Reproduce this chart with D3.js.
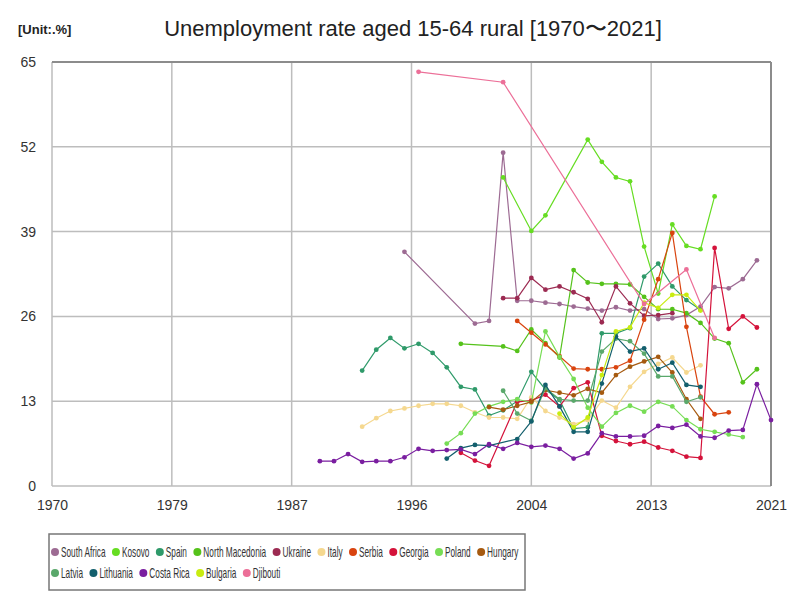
<!DOCTYPE html>
<html>
<head>
<meta charset="utf-8">
<script src="https://cdn.jsdelivr.net/npm/d3@7"></script>
<style>
  body { margin: 0; background: #fff; }
  svg { font-family: "Liberation Sans", Arial, sans-serif; }
</style>
</head>
<body>
<div id="chart"></div>
<script>
// values (percent)
const southAfricaYears = [1995, 2000, 2001, 2002, 2003, 2004, 2005, 2006, 2007, 2008, 2009, 2010, 2011, 2012, 2013, 2014, 2015, 2016, 2017, 2018, 2019, 2020];
const southAfricaValues = [35.9, 24.9, 25.3, 51.1, 28.4, 28.4, 28.1, 27.9, 27.5, 27.2, 26.9, 27.4, 26.9, 27.1, 25.6, 25.7, 26.2, 27.5, 30.5, 30.3, 31.7, 34.6];

const kosovoYears = [2002, 2004, 2005, 2008, 2009, 2010, 2011, 2012, 2013, 2014, 2015, 2016, 2017];
const kosovoValues = [47.3, 39.1, 41.5, 53.1, 49.7, 47.3, 46.7, 36.7, 29.5, 40.1, 36.8, 36.3, 44.4];

const spainYears = [1992, 1993, 1994, 1995, 1996, 1997, 1998, 1999, 2000, 2001, 2002, 2003, 2004, 2005, 2006, 2007, 2008, 2009, 2010, 2011, 2012, 2013, 2014, 2015, 2016];
const spainValues = [17.7, 20.9, 22.7, 21.1, 21.8, 20.4, 18.2, 15.2, 14.8, 10.8, 11.6, 13.0, 17.5, 14.8, 13.2, 8.8, 9.0, 23.4, 23.4, 24.2, 32.1, 34.1, 30.6, 28.5, 27.0];

const macedoniaYears = [1999, 2002, 2003, 2004, 2005, 2006, 2007, 2008, 2009, 2010, 2011, 2012, 2013, 2014, 2015, 2016, 2017, 2018, 2019, 2020];
const macedoniaValues = [21.8, 21.4, 20.7, 24.0, 21.9, 19.7, 33.1, 31.2, 31.0, 31.0, 30.9, 29.0, 27.1, 27.1, 26.5, 25.0, 22.6, 21.9, 15.9, 17.9];

const ukraineYears = [2002, 2003, 2004, 2005, 2006, 2007, 2008, 2009, 2010, 2011, 2012, 2013, 2014];
const ukraineValues = [28.8, 28.8, 31.9, 30.1, 30.6, 29.7, 28.7, 25.1, 30.6, 28.0, 26.1, 26.2, 26.5];

const italyYears = [1992, 1993, 1994, 1995, 1996, 1997, 1998, 1999, 2000, 2001, 2002, 2003, 2004, 2005, 2006, 2007, 2008, 2009, 2010, 2011, 2012, 2013, 2014, 2015, 2016];
const italyValues = [9.1, 10.4, 11.5, 11.9, 12.3, 12.6, 12.6, 12.3, 11.3, 10.5, 10.5, 10.3, 13.6, 11.5, 10.5, 9.5, 10.1, 13.1, 12.0, 15.2, 17.5, 18.7, 19.7, 17.4, 18.5];

const serbiaYears = [2003, 2004, 2005, 2006, 2007, 2008, 2009, 2010, 2011, 2012, 2013, 2014, 2015, 2016, 2017, 2018];
const serbiaValues = [25.3, 23.5, 21.7, 19.9, 18.0, 17.9, 17.9, 18.2, 19.2, 25.5, 31.7, 38.8, 24.4, 13.7, 11.0, 11.3];

const georgiaYears = [1999, 2000, 2001, 2003, 2004, 2005, 2006, 2007, 2008, 2009, 2010, 2011, 2012, 2013, 2014, 2015, 2016, 2017, 2018, 2019, 2020];
const georgiaValues = [5.1, 3.9, 3.1, 12.9, 13.1, 14.0, 12.2, 15.0, 15.9, 7.7, 6.9, 6.4, 6.8, 5.9, 5.4, 4.5, 4.3, 36.5, 24.1, 26.0, 24.3];

const polandYears = [1998, 1999, 2000, 2001, 2002, 2003, 2004, 2005, 2006, 2007, 2008, 2009, 2010, 2011, 2012, 2013, 2014, 2015, 2016, 2017, 2018, 2019];
const polandValues = [6.5, 8.1, 11.1, 12.2, 12.9, 13.3, 12.8, 23.7, 19.8, 16.4, 12.0, 9.1, 11.2, 12.3, 11.4, 12.9, 12.2, 10.1, 8.7, 8.3, 7.9, 7.5];

const hungaryYears = [2001, 2002, 2003, 2004, 2005, 2006, 2007, 2008, 2009, 2010, 2011, 2012, 2013, 2014, 2015, 2016];
const hungaryValues = [12.1, 11.7, 12.3, 12.9, 14.7, 14.3, 13.9, 14.9, 14.3, 17.0, 18.3, 19.1, 19.8, 17.4, 13.3, 10.3];

const latviaYears = [2002, 2003, 2004, 2005, 2006, 2007, 2008, 2009, 2010, 2011, 2012, 2013, 2014, 2015, 2016];
const latviaValues = [14.6, 11.1, 10.0, 15.0, 13.3, 13.1, 13.1, 20.6, 22.6, 22.2, 20.3, 16.8, 16.8, 12.9, 13.6];

const lithuaniaYears = [1998, 1999, 2000, 2001, 2003, 2004, 2005, 2006, 2007, 2008, 2009, 2010, 2011, 2012, 2013, 2014, 2015, 2016];
const lithuaniaValues = [4.2, 5.8, 6.3, 6.2, 7.2, 9.9, 15.5, 12.2, 8.3, 8.3, 15.7, 22.9, 20.6, 21.1, 17.9, 18.9, 15.5, 15.2];

const costaRicaYears = [1989, 1990, 1991, 1992, 1993, 1994, 1995, 1996, 1997, 1998, 1999, 2000, 2001, 2002, 2003, 2004, 2005, 2006, 2007, 2008, 2009, 2010, 2011, 2012, 2013, 2014, 2015, 2016, 2017, 2018, 2019, 2020, 2021];
const costaRicaValues = [3.8, 3.8, 4.9, 3.7, 3.8, 3.8, 4.4, 5.7, 5.4, 5.5, 5.6, 4.9, 6.4, 5.7, 6.6, 6.0, 6.2, 5.7, 4.2, 5.0, 8.1, 7.6, 7.6, 7.7, 9.2, 8.9, 9.4, 7.6, 7.4, 8.5, 8.6, 15.6, 10.1];

const bulgariaYears = [2006, 2007, 2008, 2009, 2010, 2011, 2012, 2013, 2014, 2015, 2016];
const bulgariaValues = [11.1, 9.0, 10.5, 17.0, 23.7, 24.3, 28.1, 27.3, 29.3, 29.3, 26.9];

const djiboutiYears = [1996, 2002, 2012, 2015, 2017];
const djiboutiValues = [63.5, 61.9, 27.9, 33.2, 22.7];

const seriesNames = ["South Africa", "Kosovo", "Spain", "North Macedonia", "Ukraine", "Italy", "Serbia", "Georgia", "Poland", "Hungary", "Latvia", "Lithuania", "Costa Rica", "Bulgaria", "Djibouti"];
const seriesColors = ["#9d6b93", "#66dd22", "#2f9a6a", "#55c21b", "#9c2b52", "#f5d88f", "#d9440f", "#d4123a", "#77dd55", "#a65a10", "#5aa86b", "#135f6d", "#7a1ea0", "#c8ec10", "#ec6f98"];
const seriesYears = [southAfricaYears, kosovoYears, spainYears, macedoniaYears, ukraineYears, italyYears, serbiaYears, georgiaYears, polandYears, hungaryYears, latviaYears, lithuaniaYears, costaRicaYears, bulgariaYears, djiboutiYears];
const seriesValues = [southAfricaValues, kosovoValues, spainValues, macedoniaValues, ukraineValues, italyValues, serbiaValues, georgiaValues, polandValues, hungaryValues, latviaValues, lithuaniaValues, costaRicaValues, bulgariaValues, djiboutiValues];

const xTickValues = [1970, 1978.5, 1987, 1995.5, 2004, 2012.5, 2021];
const yTickValues = [0, 13, 26, 39, 52, 65];

const chartTitle = "Unemployment rate aged 15-64 rural [1970〜2021]";
const unitLabel = "[Unit:.%]";

const width = 800, height = 600;
const margin = {top: 62, right: 29, bottom: 114, left: 52};

const svg = d3.select("#chart").append("svg")
    .attr("width", width)
    .attr("height", height);

const x = d3.scaleLinear().domain([1970, 2021]).range([margin.left, width - margin.right]);
const y = d3.scaleLinear().domain([0, 65]).range([height - margin.bottom, margin.top]);

// title + unit
svg.append("text")
    .attr("x", 413).attr("y", 36)
    .attr("text-anchor", "middle")
    .style("font-size", "22px")
    .style("fill", "#222")
    .text(chartTitle);

svg.append("text")
    .attr("x", 18).attr("y", 34)
    .style("font-size", "13px")
    .style("font-weight", "bold")
    .style("fill", "#222")
    .text(unitLabel);

// grid
const grid = svg.append("g");
grid.selectAll("line.v").data(xTickValues).join("line")
    .attr("x1", d => x(d)).attr("x2", d => x(d))
    .attr("y1", y(0)).attr("y2", y(65))
    .attr("stroke", "#bdbdbd").attr("stroke-width", 1.5);
grid.selectAll("line.h").data(yTickValues).join("line")
    .attr("x1", x(1970)).attr("x2", x(2021))
    .attr("y1", d => y(d)).attr("y2", d => y(d))
    .attr("stroke", "#bdbdbd").attr("stroke-width", 1.5);

// darker frame on top / right
svg.append("line")
    .attr("x1", x(1970)).attr("x2", x(2021))
    .attr("y1", y(65)).attr("y2", y(65))
    .attr("stroke", "#8c8c8c").attr("stroke-width", 2);
svg.append("line")
    .attr("x1", x(2021)).attr("x2", x(2021))
    .attr("y1", y(65)).attr("y2", y(0))
    .attr("stroke", "#8c8c8c").attr("stroke-width", 2);

// axes (labels only)
const xAxis = d3.axisBottom(x)
    .tickValues(xTickValues)
    .tickFormat(d => Math.round(d))
    .tickSize(0)
    .tickPadding(14);
const yAxis = d3.axisLeft(y)
    .tickValues(yTickValues)
    .tickSize(0)
    .tickPadding(16);

const gx = svg.append("g")
    .attr("transform", "translate(0," + y(0) + ")")
    .call(xAxis);
const gy = svg.append("g")
    .attr("transform", "translate(" + x(1970) + ",0)")
    .call(yAxis);
[gx, gy].forEach(g => {
    g.select(".domain").remove();
    g.selectAll("text")
        .style("font-size", "14px")
        .style("fill", "#333")
        .style("font-family", "\"Liberation Sans\", Arial, sans-serif");
});

// series
const line = d3.line()
    .x(d => x(d.year))
    .y(d => y(d.value));

seriesNames.forEach((name, i) => {
    const data = seriesYears[i].map((yr, j) => ({year: yr, value: seriesValues[i][j]}));
    const g = svg.append("g").attr("class", "series");
    g.append("path")
        .datum(data)
        .attr("fill", "none")
        .attr("stroke", seriesColors[i])
        .attr("stroke-width", 1.2)
        .attr("d", line);
    g.selectAll("circle").data(data).join("circle")
        .attr("cx", d => x(d.year))
        .attr("cy", d => y(d.value))
        .attr("r", 2.4)
        .attr("fill", seriesColors[i]);
});

// legend - text squeezed horizontally to mimic the narrow legend font
const legend = svg.append("g");
legend.append("rect")
    .attr("x", 49).attr("y", 534)
    .attr("width", 476).attr("height", 56)
    .attr("fill", "#fff")
    .attr("stroke", "#777")
    .attr("stroke-width", 1.5);

const rowBreak = 10;
const squeeze = 0.59;
let lx = 55;
seriesNames.forEach((name, i) => {
    if (i === rowBreak) lx = 55;
    const ly = i < rowBreak ? 552 : 573;
    const item = legend.append("g");
    item.append("circle")
        .attr("cx", lx).attr("cy", ly)
        .attr("r", 4)
        .attr("fill", seriesColors[i]);
    const t = item.append("text")
        .attr("transform", "translate(" + (lx + 6) + "," + (ly + 5) + ") scale(" + squeeze + ",1)")
        .style("font-size", "14px")
        .style("fill", "#333")
        .text(name);
    const w = t.node().getComputedTextLength() * squeeze;
    lx += 6 + w + 10.4;
});
</script>
</body>
</html>
